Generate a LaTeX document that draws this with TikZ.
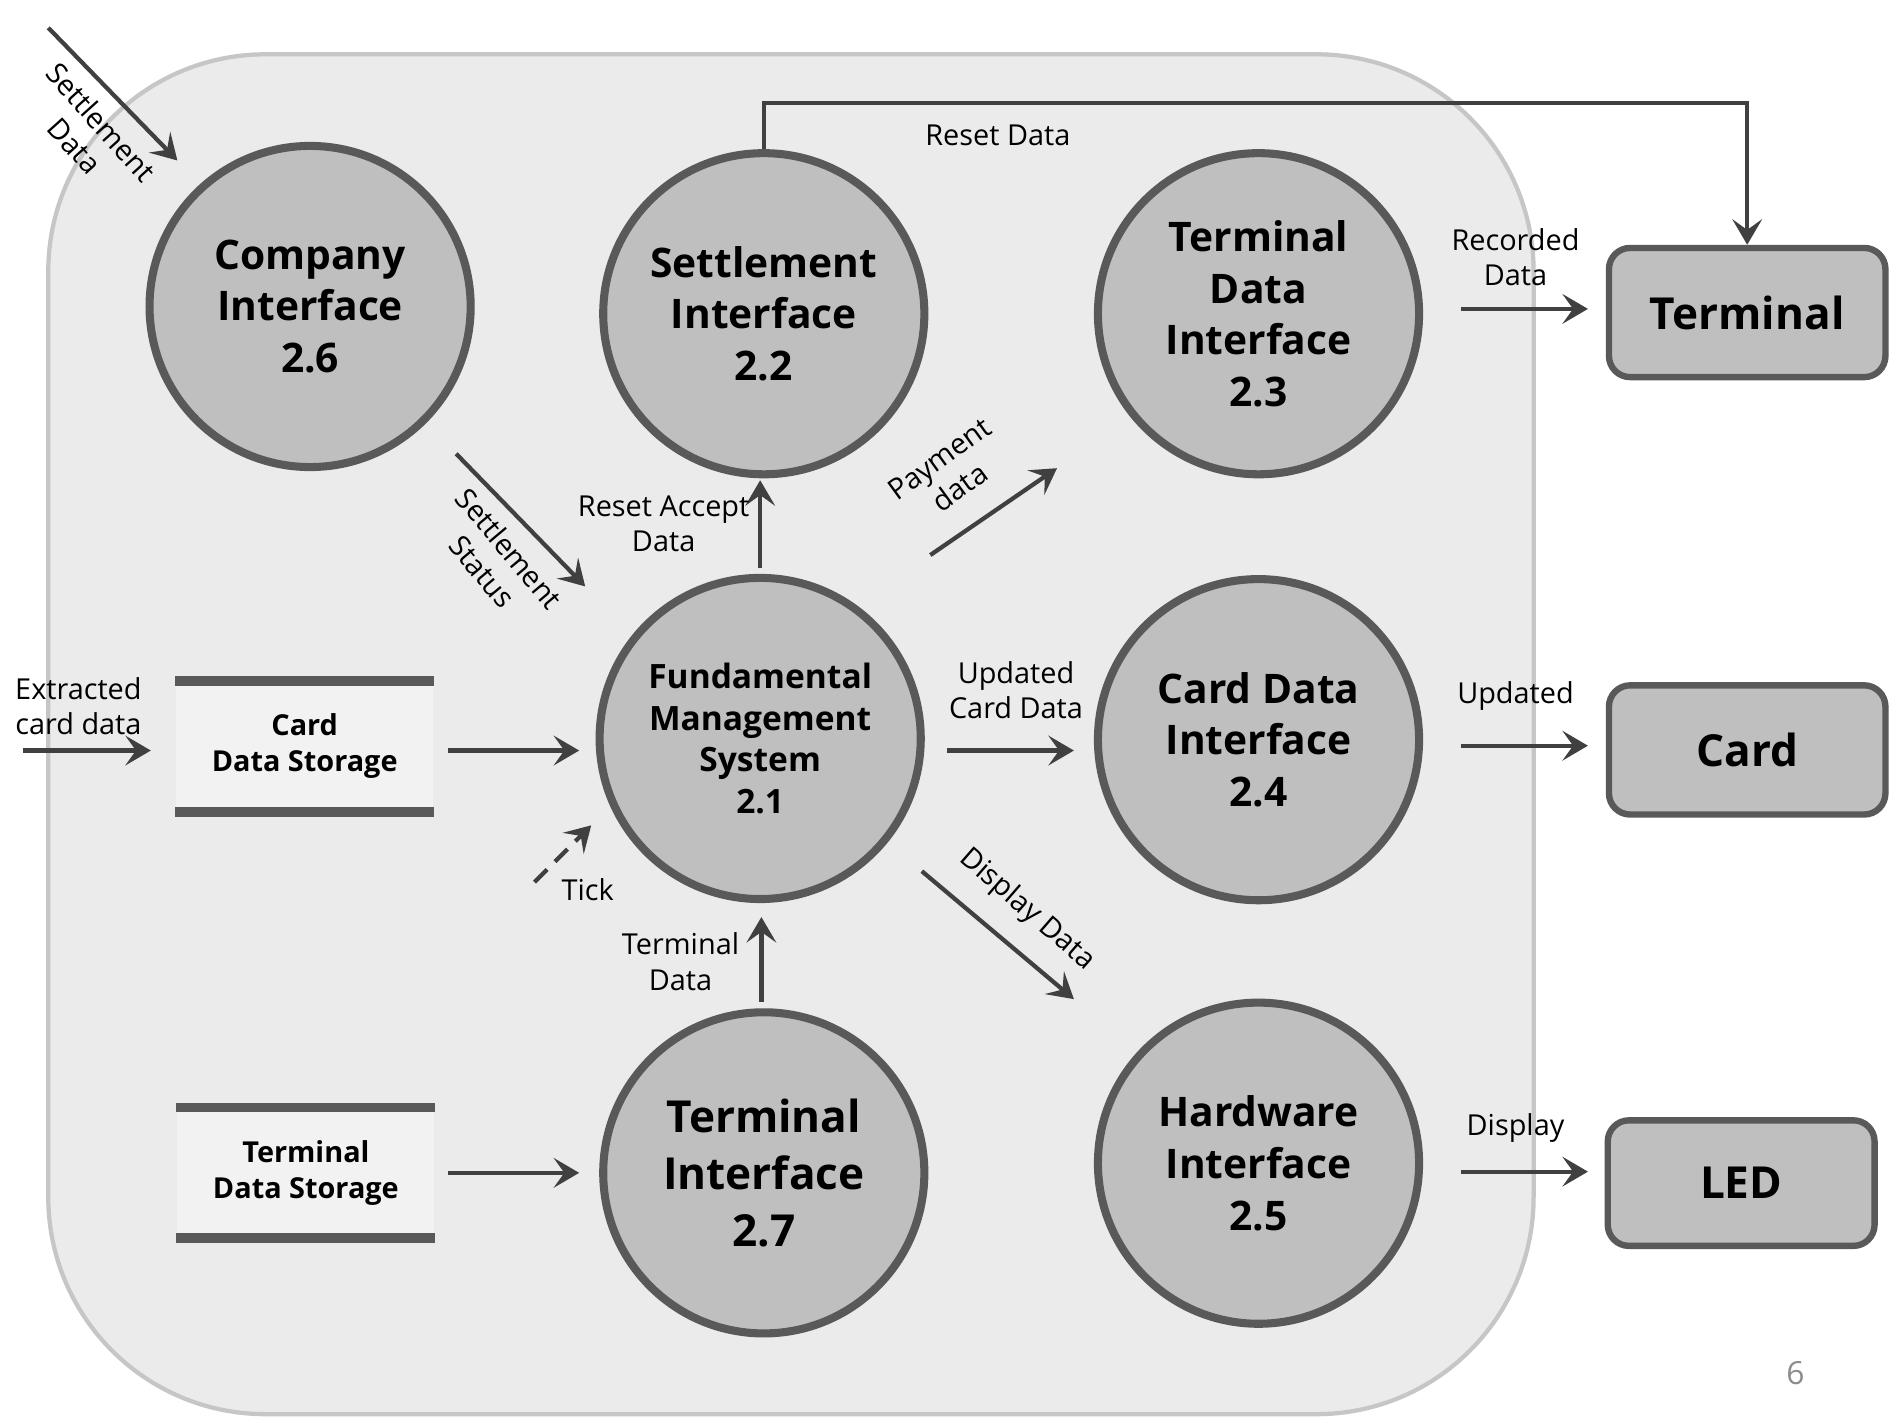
\documentclass[tikz,border=0pt]{standalone}
\usepackage{fontspec}
\setmainfont{Open Sans}
\usetikzlibrary{arrows.meta}
\definecolor{bgfill}{HTML}{EBEBEB}
\definecolor{bgline}{HTML}{C6C6C6}
\definecolor{procfill}{HTML}{BFBFBF}
\definecolor{procline}{HTML}{595959}
\definecolor{flowcol}{HTML}{404040}
\definecolor{storefill}{HTML}{F2F2F2}
\definecolor{pagenum}{HTML}{8C8C8C}
\begin{document}
\begin{tikzpicture}[x=0.01cm, y=-0.01cm,
  proc/.style={circle, draw=procline, fill=procfill, line width=1.9pt, minimum size=2.66cm, inner sep=0pt, align=center, font=\bfseries\fontsize{9.6}{12.2}\selectfont},
  bigproc/.style={proc, font=\bfseries\fontsize{10.4}{13.4}\selectfont},
  smallproc/.style={proc, font=\bfseries\fontsize{7.9}{9.8}\selectfont},
  ext/.style={rectangle, rounded corners=5pt, draw=procline, fill=procfill, line width=1.5pt, inner sep=0pt, minimum width=2.29cm, minimum height=1.07cm, font=\bfseries\fontsize{10.4}{13.4}\selectfont},
  store/.style={rectangle, fill=storefill, inner sep=0pt, minimum width=2.13cm, minimum height=1.07cm, align=center, font=\bfseries\fontsize{6.8}{8.4}\selectfont},
  storebar/.style={draw=procline, line width=2.3pt},
  flow/.style={draw=flowcol, line width=1pt, -{Stealth[length=6pt,width=7pt,inset=2.5pt]}},
  lbl/.style={align=center, inner sep=0pt, text=black, font=\fontsize{6.8}{8.3}\selectfont}
]
\useasboundingbox (0,0) rectangle (1568,1175);
\fill[white] (0,0) rectangle (1568,1175);
% system boundary
\draw[fill=bgfill, draw=bgline, line width=1pt, rounded corners=1.8cm] (40,45) rectangle (1271,1172);

% processes
\node[proc] (p26) at (257,254) {Company\\Interface\\2.6};
\node[proc] (p22) at (633,260) {Settlement\\Interface\\2.2};
\node[proc] (p23) at (1043,260) {Terminal\\Data\\Interface\\2.3};
\node[smallproc] (p21) at (630,612) {Fundamental\\Management\\System\\2.1};
\node[proc] (p24) at (1043,613) {Card Data\\Interface\\2.4};
\node[proc] (p25) at (1043,964) {Hardware\\Interface\\2.5};
\node[bigproc] (p27) at (633,972) {Terminal\\Interface\\2.7};

% external entities
\node[ext] (term) at (1448,259) {Terminal};
\node[ext] (card) at (1448,621.5) {Card};
\node[ext, minimum width=2.21cm, minimum height=1.04cm] (led) at (1443,980.5) {LED};

% data stores
\node[store] (cstore) at (252.5,618.5) {Card\\Data Storage};
\draw[storebar] (cstore.north west) -- (cstore.north east);
\draw[storebar] (cstore.south west) -- (cstore.south east);
\node[store] (tstore) at (253.5,972) {Terminal\\Data Storage};
\draw[storebar] (tstore.north west) -- (tstore.north east);
\draw[storebar] (tstore.south west) -- (tstore.south east);

% free connector ends
\coordinate (sdA) at (40,23);   \coordinate (sdB) at (147,133);
\coordinate (ssA) at (378,376); \coordinate (ssB) at (485,486);
\coordinate (raA) at (630,471); \coordinate (raB) at (630,398);
\coordinate (pdA) at (771,460); \coordinate (pdB) at (876,388);
\coordinate (rdA) at (1211,256); \coordinate (rdB) at (1316,256);
\coordinate (exA) at (19,622);  \coordinate (exB) at (125,622);
\coordinate (csA) at (371,622); \coordinate (csB) at (480,622);
\coordinate (ucA) at (785,622); \coordinate (ucB) at (890,622);
\coordinate (upA) at (1211,618); \coordinate (upB) at (1316,618);
\coordinate (tkA) at (443,731); \coordinate (tkB) at (490,684);
\coordinate (tdA) at (631,830); \coordinate (tdB) at (631,760);
\coordinate (ddA) at (764,722); \coordinate (ddB) at (890,828);
\coordinate (tsA) at (371,972); \coordinate (tsB) at (480,972);
\coordinate (dpA) at (1211,971); \coordinate (dpB) at (1316,971);

% connectors
\draw[flow] (sdA) -- (sdB);
\draw[flow] (ssA) -- (ssB);
\draw[flow] (raA) -- (raB);
\draw[flow] (p22.north) -- ++(0,-38) -| (term.north);
\draw[flow] (pdA) -- (pdB);
\draw[flow] (rdA) -- (rdB);
\draw[flow] (exA) -- (exB);
\draw[flow] (csA) -- (csB);
\draw[flow] (ucA) -- (ucB);
\draw[flow] (upA) -- (upB);
\draw[flow, dash pattern=on 4.2pt off 2.6pt] (tkA) -- (tkB);
\draw[flow] (tdA) -- (tdB);
\draw[flow] (ddA) -- (ddB);
\draw[flow] (tsA) -- (tsB);
\draw[flow] (dpA) -- (dpB);

% labels
\node[lbl, rotate=-48] (lsd) at (73,111) {Settlement\\Data};
\node[lbl, rotate=-50] (lss) at (411,464) {Settlement\\Status};
\node[lbl] (lra) at (550,434) {Reset Accept\\Data};
\node[lbl] (lrd) at (827,112) {Reset Data};
\node[lbl, rotate=36] (lpd) at (787,392) {Payment\\data};
\node[lbl] (lrec) at (1256,213) {Recorded\\Data};
\node[lbl] (lex) at (65,585) {Extracted\\card data};
\node[lbl] (luc) at (842,572) {Updated\\Card Data};
\node[lbl] (lup) at (1256,577) {Updated};
\node[lbl] (ltk) at (487,737) {Tick};
\node[lbl] (ltd) at (564,797) {Terminal\\Data};
\node[lbl, rotate=-41] (ldd) at (851,754) {Display Data};
\node[lbl] (ldp) at (1256,935) {Display};
\node[lbl, text=pagenum, font=\fontsize{7.5}{9}\selectfont] (pg) at (1488,1138) {6};
\end{tikzpicture}
\end{document}
